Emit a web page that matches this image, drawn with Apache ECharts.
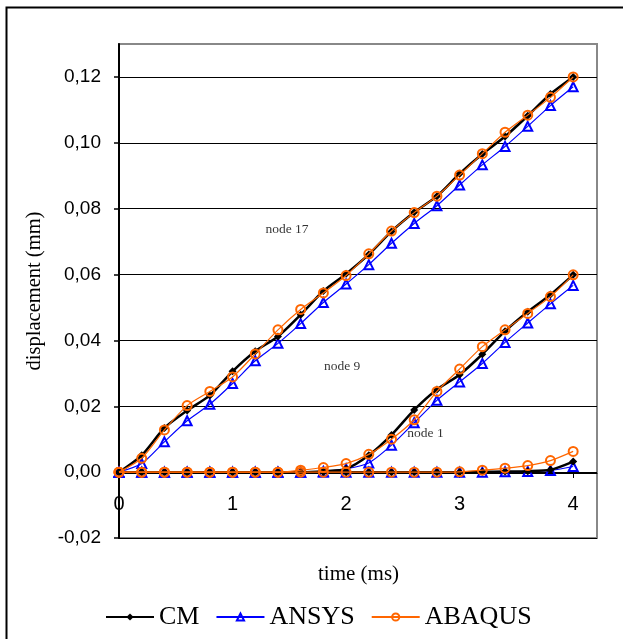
<!DOCTYPE html>
<html>
<head>
<meta charset="utf-8">
<script src="https://cdn.jsdelivr.net/npm/echarts@6/dist/echarts.min.js"></script>
<style>
  html, body { margin: 0; padding: 0; background: #fff; }
  #main { width: 623px; height: 639px; }
</style>
</head>
<body>
<div id="main"></div>
<script>
  // time (ms)
  var time = [0, 0.2, 0.4, 0.6, 0.8, 1.0, 1.2, 1.4, 1.6, 1.8, 2.0, 2.2, 2.4, 2.6, 2.8, 3.0, 3.2, 3.4, 3.6, 3.8, 4.0];

  // node 17
  var cm17 = [0, 0.0051, 0.0134, 0.0187, 0.0233, 0.0306, 0.0367, 0.0412, 0.0478, 0.0550, 0.0602, 0.0661, 0.0731, 0.0789, 0.0838, 0.0906, 0.0966, 0.1019, 0.1082, 0.1148, 0.1200];
  var ansys17 = [0, 0.0026, 0.0092, 0.0156, 0.0206, 0.0269, 0.0338, 0.0391, 0.0451, 0.0515, 0.0571, 0.0630, 0.0695, 0.0755, 0.0809, 0.0872, 0.0933, 0.0989, 0.1050, 0.1113, 0.1170];
  var abaqus17 = [0, 0.0042, 0.0128, 0.0202, 0.0245, 0.0289, 0.0359, 0.0432, 0.0494, 0.0544, 0.0597, 0.0663, 0.0732, 0.0788, 0.0838, 0.0902, 0.0967, 0.1032, 0.1084, 0.1138, 0.1200];

  // node 9
  var cm9 = [0, 0, 0, 0, 0, 0, 0, 0, 0, 0.0003, 0.0010, 0.0051, 0.0113, 0.0189, 0.0251, 0.0296, 0.0358, 0.0428, 0.0487, 0.0539, 0.0599];
  var ansys9 = [0, 0, 0, 0, 0, 0, 0, 0, 0, 0.0002, 0.0010, 0.0028, 0.0082, 0.0150, 0.0218, 0.0274, 0.0330, 0.0394, 0.0453, 0.0511, 0.0567];
  var abaqus9 = [0, 0, 0, 0, 0, 0, 0, 0, 0.0006, 0.0014, 0.0026, 0.0054, 0.0100, 0.0159, 0.0245, 0.0313, 0.0381, 0.0432, 0.0482, 0.0533, 0.0599];

  // node 1
  var cm1 = [0, 0, 0, 0, 0, 0, 0, 0, 0, 0, 0, 0, 0, 0, 0, 0, 0.0001, 0.0002, 0.0003, 0.0007, 0.0032];
  var ansys1 = [0, 0, 0, 0, 0, 0, 0, 0, 0, 0, 0, 0, 0, 0, 0, 0, 0, 0.0001, 0.0002, 0.0005, 0.0017];
  var abaqus1 = [0, 0, 0, 0, 0, 0, 0, 0, 0, 0, 0, 0, 0, 0, 0, 0.0001, 0.0006, 0.0012, 0.0020, 0.0035, 0.0063];

  var xTicks = [0, 1, 2, 3, 4];
  var yTicks = [-0.02, 0, 0.02, 0.04, 0.06, 0.08, 0.10, 0.12];

  // node labels: [text, time, displacement]
  var nodeLabels = [['node 17', 1.48, 0.0736], ['node 9', 1.965, 0.0322], ['node 1', 2.7, 0.0118]];

  function pairs(ys) {
    return time.map(function (t, i) { return [t, ys[i]]; });
  }

  var serif = 'Liberation Serif';
  var sans = 'Liberation Sans';

  function cmSeries(ys) {
    return {
      name: 'CM', type: 'line', data: pairs(ys), smooth: 0.25, z: 3,
      symbol: 'diamond', symbolSize: 8,
      lineStyle: { color: '#000', width: 2.5 },
      itemStyle: { color: '#000' }
    };
  }
  function ansysSeries(ys) {
    return {
      name: 'ANSYS', type: 'line', data: pairs(ys), smooth: 0.25, z: 2,
      symbol: 'triangle', symbolSize: 9,
      lineStyle: { color: '#0000ff', width: 1.2 },
      itemStyle: { color: 'rgba(255,255,255,0)', borderColor: '#0000ff', borderWidth: 2 }
    };
  }
  function abaqusSeries(ys) {
    return {
      name: 'ABAQUS', type: 'line', data: pairs(ys), smooth: 0.25, z: 4,
      symbol: 'circle', symbolSize: 9,
      lineStyle: { color: '#ff6600', width: 1.2 },
      itemStyle: { color: 'rgba(255,255,255,0)', borderColor: '#ff6600', borderWidth: 2 }
    };
  }

  var series = [
    ansysSeries(ansys17), cmSeries(cm17), abaqusSeries(abaqus17),
    ansysSeries(ansys9), cmSeries(cm9), abaqusSeries(abaqus9),
    ansysSeries(ansys1), cmSeries(cm1), abaqusSeries(abaqus1)
  ];

  // annotations
  series.push({
    type: 'scatter', silent: true, symbolSize: 0, z: 5,
    data: nodeLabels.map(function (n) { return { value: [n[1], n[2]], name: n[0] }; }),
    label: {
      show: true, position: 'inside', formatter: '{b}',
      fontFamily: serif, fontSize: 13.5, color: '#000'
    }
  });

  var chart = echarts.init(document.getElementById('main'));
  chart.setOption({
    animation: false,
    backgroundColor: '#fff',
    graphic: [{
      type: 'rect', shape: { x: 6.5, y: 7.5, width: 700, height: 700 },
      style: { fill: 'none', stroke: '#000', lineWidth: 2 }, silent: true
    }, {
      type: 'text', left: 318, top: 564, silent: true,
      style: { text: 'time (ms)', fontFamily: serif, fontSize: 21, fill: '#000' }
    }],
    grid: {
      left: 119, right: 26, top: 44, bottom: 101,
      outerBoundsMode: 'none', containLabel: false,
      show: true, borderColor: '#888', borderWidth: 2, backgroundColor: 'transparent'
    },
    legend: {
      top: 599, left: 100,
      itemWidth: 48, itemHeight: 9, itemGap: 16,
      data: ['CM', 'ANSYS', 'ABAQUS'],
      textStyle: { fontFamily: serif, fontSize: 26, color: '#000' }
    },
    xAxis: {
      type: 'value', min: 0, max: 4.21, offset: -65,
      axisLine: { onZero: false, lineStyle: { color: '#000', width: 1 } },
      axisTick: { show: true, customValues: xTicks, length: 5, lineStyle: { color: '#000' } },
      axisLabel: {
        customValues: xTicks, margin: 21,
        fontFamily: sans, fontSize: 20, color: '#000'
      },
      splitLine: { show: false }
    },
    yAxis: {
      type: 'value', min: -0.02, max: 0.13, interval: 0.02,
      name: 'displacement (mm)', nameLocation: 'middle', nameGap: 74,
      nameTextStyle: { fontFamily: serif, fontSize: 20.5, color: '#000' },
      axisLine: { show: true, onZero: false, lineStyle: { color: '#000', width: 2 } },
      axisTick: { show: true, customValues: yTicks, length: 5, lineStyle: { color: '#000', width: 1.5 } },
      axisLabel: {
        customValues: yTicks, margin: 18,
        fontFamily: sans, fontSize: 19, color: '#000',
        formatter: function (v) { return v.toFixed(2).replace('.', ','); }
      },
      splitLine: { show: true, lineStyle: { color: '#000', width: 1 } }
    },
    series: series
  });
</script>
</body>
</html>
